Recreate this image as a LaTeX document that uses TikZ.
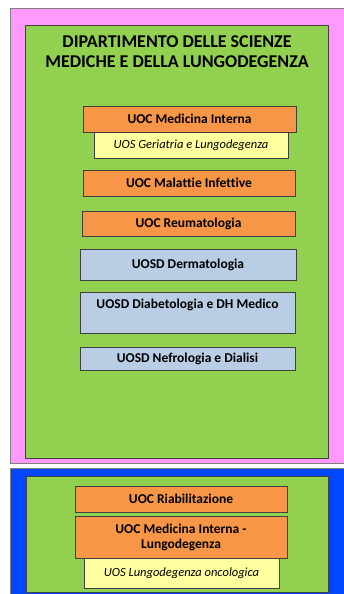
\documentclass[tikz,border=0pt]{standalone}
\usepackage{fontspec}
\setmainfont{Carlito}[Ligatures=NoCommon]
\usetikzlibrary{positioning}

\definecolor{dipPink}{HTML}{FF99FF}
\definecolor{dipGreen}{HTML}{92D050}
\definecolor{dipBlue}{HTML}{0047FF}
\definecolor{uocOrange}{HTML}{F79646}
\definecolor{uosYellow}{HTML}{FFFF9F}
\definecolor{uosdBlue}{HTML}{B9CDE5}
\definecolor{edgeGray}{HTML}{404040}

\tikzset{
    uoc/.style={draw=edgeGray, fill=uocOrange, font=\bfseries\fontsize{13.5}{15}\selectfont},
    uos/.style={draw=edgeGray, fill=uosYellow, font=\itshape\fontsize{12.5}{14}\selectfont},
    uosd/.style={draw=edgeGray, fill=uosdBlue, font=\bfseries\fontsize{13.5}{15}\selectfont},
}

\begin{document}
\begin{tikzpicture}[x=1pt, y=-1pt, line width=0.8pt]
    \useasboundingbox (0, 0) rectangle (344, 594);

    \node[draw=gray, fill=dipPink, minimum width=336pt, minimum height=455pt] (dip1) at (178, 235.5) {};
    \node[draw=edgeGray, fill=dipGreen, minimum width=303pt, minimum height=433pt] (green1) at (176.5, 241.5) {};
    \node[align=center, font=\bfseries\fontsize{18}{20}\selectfont] (title) at (177, 52) {DIPARTIMENTO DELLE SCIENZE\\MEDICHE E DELLA LUNGODEGENZA};

    \node[uos, minimum width=194pt, minimum height=26pt] (geri) at (191, 145) {UOS Geriatria e Lungodegenza};
    \node[uoc, minimum width=213pt, minimum height=26pt] (medint) at (189.5, 119) {UOC Medicina Interna};
    \node[uoc, minimum width=212pt, minimum height=26pt] (malinf) at (189, 183) {UOC Malattie Infettive};
    \node[uoc, minimum width=213pt, minimum height=25pt] (reuma) at (188.5, 223.5) {UOC Reumatologia};
    \node[uosd, minimum width=216pt, minimum height=31pt] (derma) at (188, 264.5) {UOSD Dermatologia};
    \node[uosd, minimum width=215pt, minimum height=41pt] (diab) at (187.5, 312.5) {};
    \node[font=\bfseries\fontsize{13.5}{15}\selectfont, below=4pt of diab.north] (diabtxt) {UOSD Diabetologia e DH Medico};
    \node[uosd, minimum width=215pt, minimum height=23pt] (nefro) at (187.5, 358.5) {UOSD Nefrologia e Dialisi};

    \node[draw=gray, fill=dipBlue, minimum width=336pt, minimum height=128pt] (dip2) at (178, 532) {};
    \node[draw=edgeGray, fill=dipGreen, minimum width=302pt, minimum height=116pt] (green2) at (177, 534) {};

    \node[uoc, minimum width=212pt, minimum height=26pt] (riab) at (181, 499) {UOC Riabilitazione};
    \node[uos, minimum width=195pt, minimum height=30pt] (onco) at (181.5, 573) {UOS Lungodegenza oncologica};
    \node[uoc, align=center, minimum width=212pt, minimum height=42pt] (medlung) at (181, 537) {UOC Medicina Interna -\\Lungodegenza};
\end{tikzpicture}
\end{document}
